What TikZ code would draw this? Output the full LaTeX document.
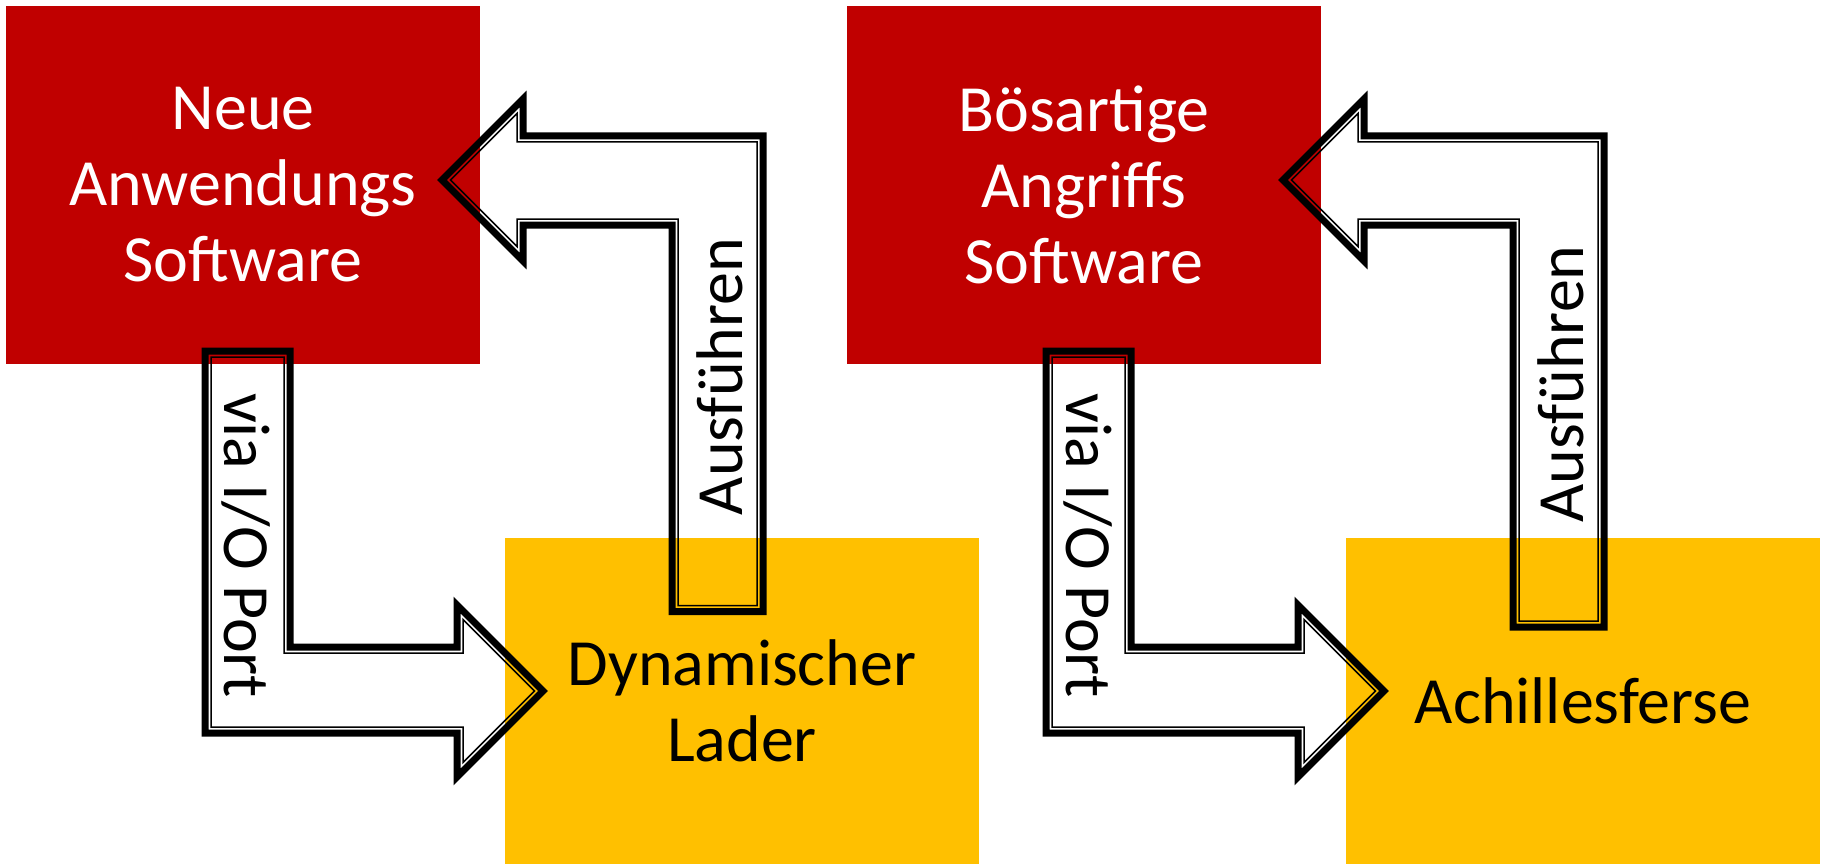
\documentclass[tikz,border=0pt]{standalone}
\usepackage{fontspec}
\setmainfont{Carlito}
\definecolor{boxred}{RGB}{192,0,0}
\definecolor{boxyellow}{RGB}{255,192,0}

\tikzset{
  block/.style={inner sep=0pt, outer sep=0pt, align=center,
    font=\fontsize{66}{76}\selectfont},
  redblock/.style={block, fill=boxred, text=white,
    minimum width=474pt, minimum height=358pt},
  yellowblock/.style={block, fill=boxyellow, text=black,
    minimum width=474pt, minimum height=326pt},
  arrowlabel/.style={inner sep=0pt, outer sep=0pt,
    font=\fontsize{66}{76}\selectfont},
  outerline/.style={draw=black, line width=7pt, line join=miter},
  innerline/.style={draw=black, line width=1.5pt, line join=miter},
  % bent arrow going down from the upper box and right into the lower box
  pics/ioarrow/.style={code={
    \draw[outerline] (205,351) -- (290,351) -- (290,647) -- (457,647)
      -- (457,605) -- (543,691) -- (457,777) -- (457,733) -- (205,733) -- cycle;
    \def\gapw{6}
    \draw[innerline] ({205+\gapw},{351+\gapw}) -- ({290-\gapw},{351+\gapw})
      -- ({290-\gapw},{647+\gapw}) -- ({457+\gapw},{647+\gapw})
      -- ({457+\gapw},{605+2.4142*\gapw}) -- ({543-1.4142*\gapw},691)
      -- ({457+\gapw},{777-2.4142*\gapw}) -- ({457+\gapw},{733-\gapw})
      -- ({205+\gapw},{733-\gapw}) -- cycle;
  }},
  % bent arrow going up from the lower box and left into the upper box;
  % the argument is the y of the tail end
  pics/runarrow/.style={code={
    \draw[outerline] (672,#1) -- (672,225) -- (523,225) -- (523,261)
      -- (442,180) -- (523,99) -- (523,136) -- (763,136) -- (763,#1) -- cycle;
    \def\gapw{6}
    \draw[innerline] ({672+\gapw},{#1-\gapw}) -- ({672+\gapw},{225-\gapw})
      -- ({523-\gapw},{225-\gapw}) -- ({523-\gapw},{261-2.4142*\gapw})
      -- ({442+1.4142*\gapw},180) -- ({523-\gapw},{99+2.4142*\gapw})
      -- ({523-\gapw},{136+\gapw}) -- ({763-\gapw},{136+\gapw})
      -- ({763-\gapw},{#1-\gapw}) -- cycle;
  }}
}

\begin{document}
\begin{tikzpicture}[x=1pt, y=-1pt]
  \fill[white] (0,0) rectangle (1825,864);
  \useasboundingbox (0,0) rectangle (1825,864);

  % left group
  \node[redblock] (app) at (243,185) {Neue\\Anwendungs\\Software};
  \node[yellowblock] (loader) at (742,701) {Dynamischer\\Lader};
  \pic (appio) at (0,0) {ioarrow};
  \pic (apprun) at (0,0) {runarrow=611.5};
  \node[arrowlabel, rotate=-90] (appiolabel) at (246.5,545.5) {via I/O Port};
  \node[arrowlabel, rotate=90] (apprunlabel) at (719.5,376.5) {Ausführen};

  % right group
  \node[redblock] (mal) at (1084,185) {Bösartige\\Angriffs\\Software};
  \node[yellowblock] (heel) at (1583,701) {Achillesferse};
  \pic (malio) at (841,0) {ioarrow};
  \pic (malrun) at (841,0) {runarrow=627};
  \node[arrowlabel, rotate=-90] (maliolabel) at (1087.5,545.5) {via I/O Port};
  \node[arrowlabel, rotate=90] (malrunlabel) at (1560.5,384) {Ausführen};
\end{tikzpicture}
\end{document}
